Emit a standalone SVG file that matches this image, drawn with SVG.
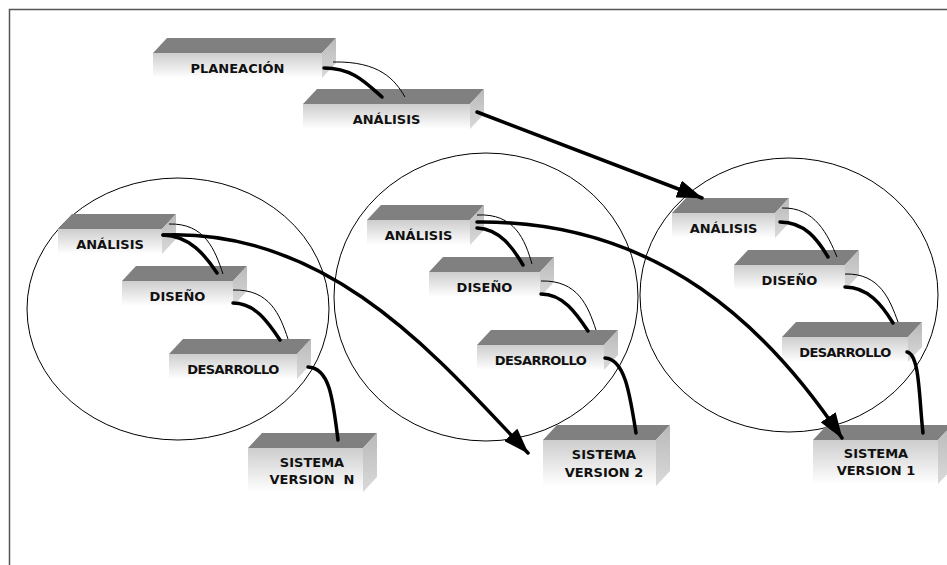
<svg xmlns="http://www.w3.org/2000/svg" width="947" height="565" viewBox="0 0 947 565">
  <style>
    .top { fill: #808080; }
    .front { fill: url(#frontGrad); }
    .side { fill: url(#sideGrad); }
    .lbl { font-family: "DejaVu Sans", Verdana, sans-serif; font-weight: bold; font-size: 13px; fill: #111; text-anchor: middle; }
    .tight { letter-spacing: -0.6px; }
    .cycle { fill: none; stroke: #000; stroke-width: 1; }
    .thick { fill: none; stroke: #000; stroke-width: 3.5; stroke-linecap: round; }
    .thin { fill: none; stroke: #000; stroke-width: 1; }
    .arrow { fill: none; stroke: #000; stroke-width: 3.5; stroke-linecap: round; marker-end: url(#head); }
    .frame { fill: none; stroke: #555; stroke-width: 1.5; }
  </style>
  <defs>
    <linearGradient id="frontGrad" x1="0" y1="0" x2="0" y2="1">
      <stop offset="0" stop-color="#cdcdcd"/>
      <stop offset="1" stop-color="#ffffff"/>
    </linearGradient>
    <linearGradient id="sideGrad" x1="0" y1="0" x2="0" y2="1">
      <stop offset="0" stop-color="#b9b9b9"/>
      <stop offset="1" stop-color="#dadada"/>
    </linearGradient>
    <marker id="head" markerUnits="userSpaceOnUse" viewBox="0 0 26 18" markerWidth="26" markerHeight="18" refX="25" refY="9" orient="auto">
      <path d="M0,0 L26,9 L0,18 Z" fill="#000"/>
    </marker>
  </defs>

  <rect width="947" height="565" fill="#fff"/>
  <path class="frame" d="M947,9.5 H9.5 V565"/>

  <!-- iteration cycles -->
  <g id="cycles">
    <ellipse class="cycle" cx="178" cy="309" rx="151" ry="131"/>
    <ellipse class="cycle" cx="486" cy="297" rx="152" ry="144"/>
    <ellipse class="cycle" cx="789" cy="295" rx="149" ry="137"/>
  </g>

  <!-- nodes -->
  <g id="planeacion" transform="translate(153,53)">
    <path class="top" d="M0,0 L14,-15 H183 L169,0 Z"/>
    <rect class="front" width="169" height="25"/>
    <path class="side" d="M169,0 L183,-15 V10 L169,25 Z"/>
    <text class="lbl" x="84.5" y="20">PLANEACIÓN</text>
  </g>
  <g id="analisis0" transform="translate(303,104)">
    <path class="top" d="M0,0 L14,-15 H181 L167,0 Z"/>
    <rect class="front" width="167" height="25"/>
    <path class="side" d="M167,0 L181,-15 V10 L167,25 Z"/>
    <text class="lbl" x="83.5" y="20">ANÁLISIS</text>
  </g>

  <g id="analisis1" transform="translate(58,229)">
    <path class="top" d="M0,0 L14,-15 H118 L104,0 Z"/>
    <rect class="front" width="104" height="25"/>
    <path class="side" d="M104,0 L118,-15 V10 L104,25 Z"/>
    <text class="lbl" x="52" y="19.5">ANÁLISIS</text>
  </g>
  <g id="diseno1" transform="translate(122,281)">
    <path class="top" d="M0,0 L14,-15 H125 L111,0 Z"/>
    <rect class="front" width="111" height="25"/>
    <path class="side" d="M111,0 L125,-15 V10 L111,25 Z"/>
    <text class="lbl" x="55.5" y="19.5">DISEÑO</text>
  </g>
  <g id="desarrollo1" transform="translate(169,354)">
    <path class="top" d="M0,0 L14,-15 H142 L128,0 Z"/>
    <rect class="front" width="128" height="25"/>
    <path class="side" d="M128,0 L142,-15 V10 L128,25 Z"/>
    <text class="lbl tight" x="64" y="19.5">DESARROLLO</text>
  </g>

  <g id="analisis2" transform="translate(367,220)">
    <path class="top" d="M0,0 L14,-15 H117 L103,0 Z"/>
    <rect class="front" width="103" height="25"/>
    <path class="side" d="M103,0 L117,-15 V10 L103,25 Z"/>
    <text class="lbl" x="51.5" y="19.5">ANÁLISIS</text>
  </g>
  <g id="diseno2" transform="translate(429,272)">
    <path class="top" d="M0,0 L14,-15 H125 L111,0 Z"/>
    <rect class="front" width="111" height="25"/>
    <path class="side" d="M111,0 L125,-15 V10 L111,25 Z"/>
    <text class="lbl" x="55.5" y="19.5">DISEÑO</text>
  </g>
  <g id="desarrollo2" transform="translate(477,345)">
    <path class="top" d="M0,0 L14,-15 H141 L127,0 Z"/>
    <rect class="front" width="127" height="25"/>
    <path class="side" d="M127,0 L141,-15 V10 L127,25 Z"/>
    <text class="lbl tight" x="63.5" y="19.5">DESARROLLO</text>
  </g>

  <g id="analisis3" transform="translate(672,213)">
    <path class="top" d="M0,0 L14,-15 H117 L103,0 Z"/>
    <rect class="front" width="103" height="25"/>
    <path class="side" d="M103,0 L117,-15 V10 L103,25 Z"/>
    <text class="lbl" x="51.5" y="19.5">ANÁLISIS</text>
  </g>
  <g id="diseno3" transform="translate(734,265)">
    <path class="top" d="M0,0 L14,-15 H125 L111,0 Z"/>
    <rect class="front" width="111" height="25"/>
    <path class="side" d="M111,0 L125,-15 V10 L111,25 Z"/>
    <text class="lbl" x="55.5" y="19.5">DISEÑO</text>
  </g>
  <g id="desarrollo3" transform="translate(782,337)">
    <path class="top" d="M0,0 L14,-15 H140 L126,0 Z"/>
    <rect class="front" width="126" height="25"/>
    <path class="side" d="M126,0 L140,-15 V10 L126,25 Z"/>
    <text class="lbl tight" x="63" y="19.5">DESARROLLO</text>
  </g>

  <g id="sistemaN" transform="translate(248,448)">
    <path class="top" d="M0,0 L14,-15 H129 L115,0 Z"/>
    <rect class="front" width="115" height="44"/>
    <path class="side" d="M115,0 L129,-15 V29 L115,44 Z"/>
    <text class="lbl" x="64" y="19">SISTEMA</text>
    <text class="lbl" x="64" y="36" xml:space="preserve">VERSION  N</text>
  </g>
  <g id="sistema2" transform="translate(543,440)">
    <path class="top" d="M0,0 L14,-15 H127 L113,0 Z"/>
    <rect class="front" width="113" height="46"/>
    <path class="side" d="M113,0 L127,-15 V31 L113,46 Z"/>
    <text class="lbl" x="61" y="19">SISTEMA</text>
    <text class="lbl" x="61" y="37">VERSION 2</text>
  </g>
  <g id="sistema1" transform="translate(813,440)">
    <path class="top" d="M0,0 L14,-15 H139 L125,0 Z"/>
    <rect class="front" width="125" height="44"/>
    <path class="side" d="M125,0 L139,-15 V29 L125,44 Z"/>
    <text class="lbl" x="63" y="18">SISTEMA</text>
    <text class="lbl" x="63" y="35">VERSION 1</text>
  </g>

  <!-- connectors -->
  <g id="connectors">
    <path class="thin" d="M333,62 C380,61 395,80 405,97"/>
    <path class="thick" d="M324,68 C352,68 365,82 382,97"/>
    <path class="arrow" d="M477,112 L702,198"/>

    <path class="thin" d="M169,224 C205,223 215,250 223,274"/>
    <path class="thick" d="M163,235 C190,236 205,255 217,273"/>
    <path class="thin" d="M233,290 C270,289 280,315 288,339"/>
    <path class="thick" d="M233,303 C255,303 268,322 280,340"/>
    <path class="thick" d="M308,367 C330,368 333,400 338,440"/>
    <path class="arrow" d="M163,235 C330,228 440,360 528,453"/>

    <path class="thin" d="M477,215 C515,213 525,240 532,264"/>
    <path class="thick" d="M477,228 C500,229 513,248 523,265"/>
    <path class="thin" d="M541,281 C578,280 588,306 596,330"/>
    <path class="thick" d="M541,294 C563,294 576,313 588,331"/>
    <path class="thick" d="M605,358 C625,359 630,395 636,433"/>
    <path class="arrow" d="M477,222 C660,220 770,330 842,438"/>

    <path class="thin" d="M782,208 C815,207 828,235 837,257"/>
    <path class="thick" d="M780,222 C805,222 818,240 828,257"/>
    <path class="thin" d="M845,274 C880,273 890,300 898,322"/>
    <path class="thick" d="M845,287 C868,287 882,305 893,323"/>
    <path class="thick" d="M907,352 C920,354 919,400 923,433"/>
  </g>
</svg>
